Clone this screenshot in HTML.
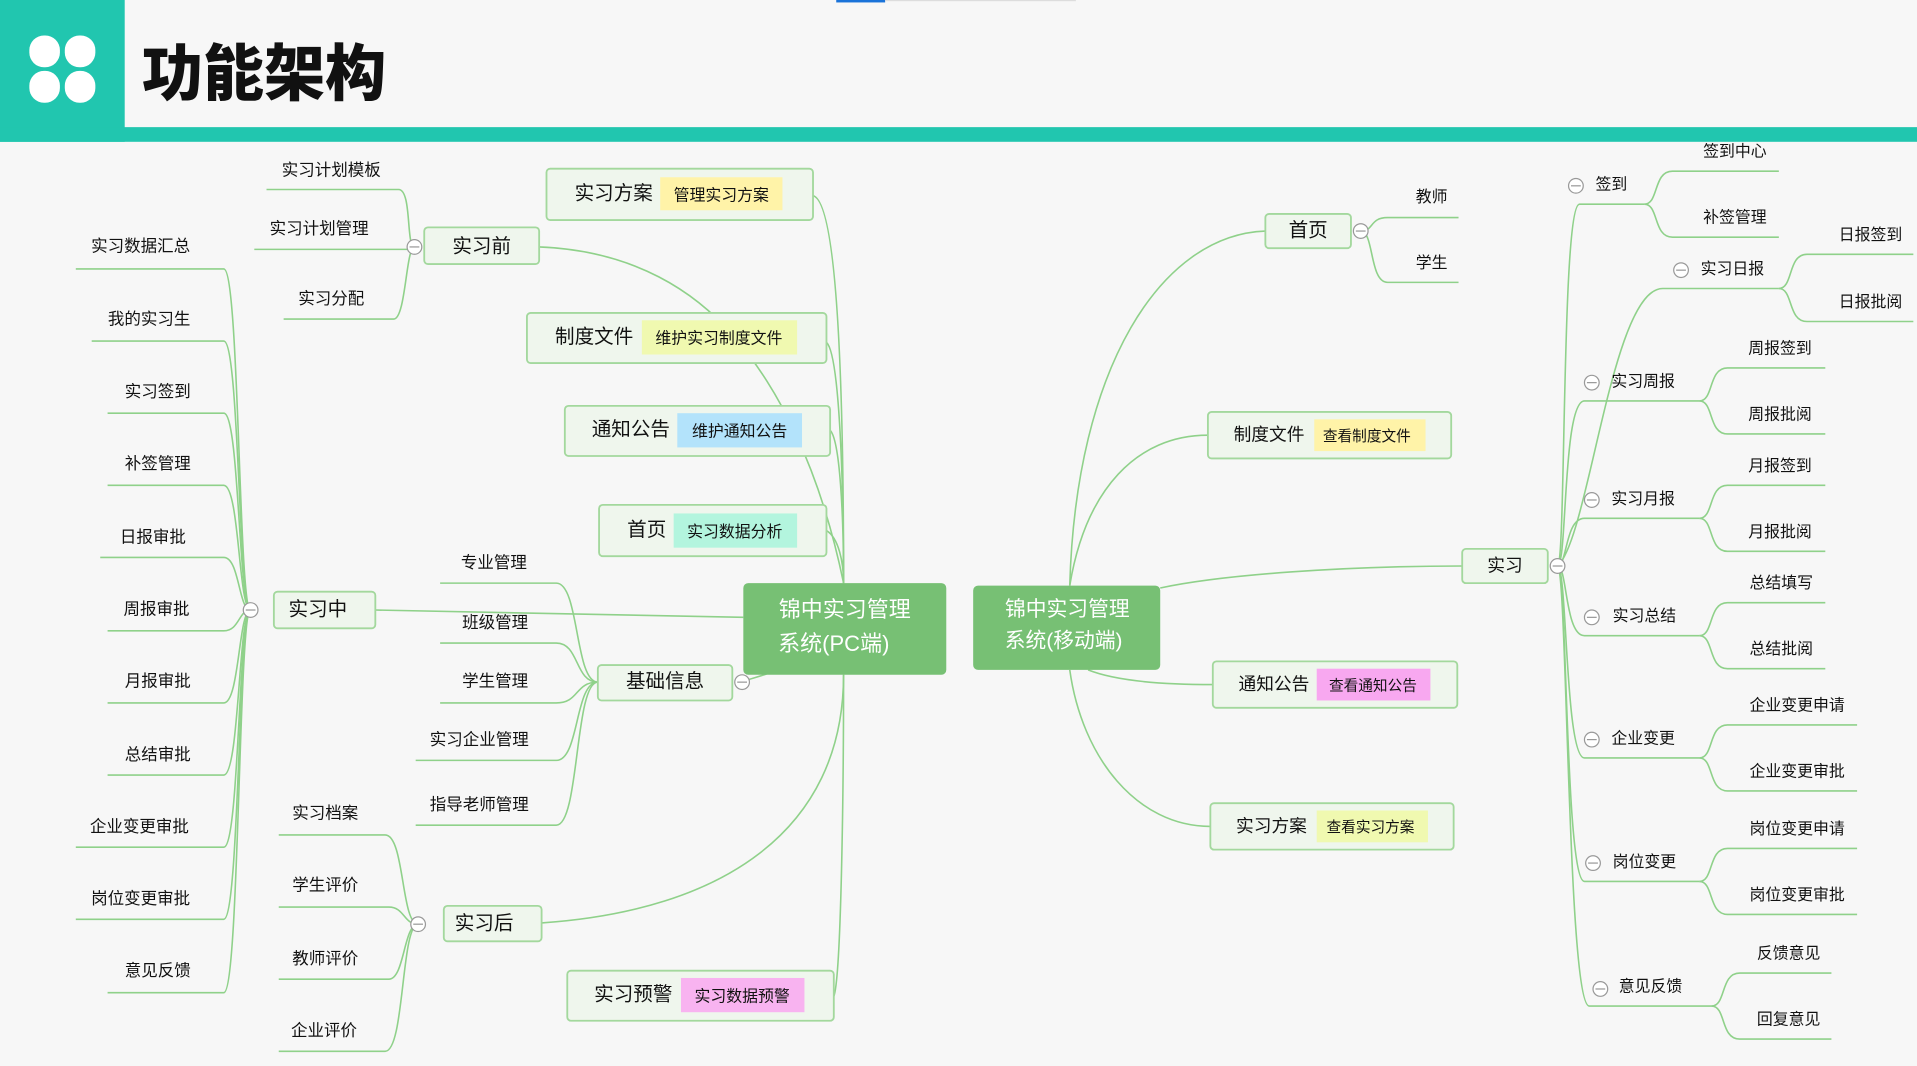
<!DOCTYPE html>
<html><head><meta charset="utf-8"><style>
html,body{margin:0;padding:0;background:#f7f7f7;}
svg{display:block;}
text{font-family:"Liberation Sans","Noto Sans CJK SC",sans-serif;fill:#111;dominant-baseline:central;transform:translateY(1.5px);}
.l{font-size:13.5px;text-anchor:middle;}
.n{font-size:16px;text-anchor:middle;}
.t{font-size:13px;text-anchor:middle;}
.c{fill:none;stroke:#8fd18a;stroke-width:1.3;}
.b{fill:#eff6ed;stroke:#a3d89d;stroke-width:1.5;}
.k circle{fill:#fff;stroke:#999;stroke-width:1;}
.k line{stroke:#999;stroke-width:1;}
</style></head><body>
<svg width="1917" height="1066" viewBox="0 0 1568 872" preserveAspectRatio="none" xmlns="http://www.w3.org/2000/svg">
<rect width="1568" height="872" fill="#f7f7f7"/>
<!-- header -->
<rect x="684" y="0" width="40" height="2" fill="#1a73d9"/>
<rect x="724" y="0" width="156" height="1" fill="#ddd"/>
<rect x="0" y="0" width="102" height="116" fill="#21c6af"/>
<rect x="0" y="104" width="1568" height="12" fill="#21c6af"/>
<rect x="24" y="29" width="25" height="26" rx="12" fill="#fff"/>
<rect x="53" y="29" width="25" height="26" rx="12" fill="#fff"/>
<rect x="24" y="58" width="25" height="26" rx="12" fill="#fff"/>
<rect x="53" y="58" width="25" height="26" rx="12" fill="#fff"/>
<text x="116" y="56" style="font-size:50px;font-weight:900;font-family:'Noto Sans CJK SC',sans-serif;transform:none;">功能架构</text>

<!-- connectors PC -->
<path class="c" d="M665,160 C684,165 690,300 690,477"/>
<path class="c" d="M676,280 C687,290 690,400 690,477"/>
<path class="c" d="M679,352 C687,360 690,420 690,477"/>
<path class="c" d="M676,434 C686,440 690,460 690,477"/>
<path class="c" d="M441,202 C520,205 570,240 600,275 C635,315 670,380 690,477"/>
<path class="c" d="M307,499 L608,505"/>
<path class="c" d="M612,556 C625,552 632,550 636,548"/>
<path class="c" d="M443,755 C590,745 690,680 690,552"/>
<path class="c" d="M682,815 C688,800 690,650 690,552"/>
<!-- 实习前 leaves -->
<path class="c" d="M218,155 H326 C337,155 332,202 339,202"/>
<path class="c" d="M208,204 H333"/>
<path class="c" d="M232,261 H322 C332,261 332,202 339,202"/>
<!-- 实习中 leaves -->
<path class="c" d="M62,220 H183 C196,220 195,499 205,499"/>
<path class="c" d="M75,279 H183 C196,279 195,499 205,499"/>
<path class="c" d="M88,338 H183 C196,338 195,499 205,499"/>
<path class="c" d="M88,397 H183 C196,397 195,499 205,499"/>
<path class="c" d="M82,456 H183 C196,456 195,499 205,499"/>
<path class="c" d="M88,516 H183 C196,516 195,499 205,499"/>
<path class="c" d="M88,575 H183 C196,575 195,499 205,499"/>
<path class="c" d="M88,634 H183 C196,634 195,499 205,499"/>
<path class="c" d="M62,693 H183 C196,693 195,499 205,499"/>
<path class="c" d="M62,752 H183 C196,752 195,499 205,499"/>
<path class="c" d="M88,812 H183 C196,812 195,499 205,499"/>
<!-- 基础信息 leaves -->
<path class="c" d="M360,477 H455 C474,477 470,558 489,558"/>
<path class="c" d="M360,526 H455 C474,526 470,558 489,558"/>
<path class="c" d="M360,575 H455 C474,575 470,558 489,558"/>
<path class="c" d="M340,622 H455 C474,622 470,558 489,558"/>
<path class="c" d="M340,675 H455 C474,675 470,558 489,558"/>
<!-- 实习后 leaves -->
<path class="c" d="M228,683 H315 C331,683 328,756 342,756"/>
<path class="c" d="M228,742 H318 C331,742 330,756 342,756"/>
<path class="c" d="M228,801 H318 C331,801 330,756 342,756"/>
<path class="c" d="M228,860 H315 C331,860 328,756 342,756"/>

<!-- mobile connectors -->
<path class="c" d="M875,479 C880,300 950,192 1035,189"/>
<path class="c" d="M875,479 C888,400 930,356 988,356"/>
<path class="c" d="M949,481 C1000,470 1100,463 1196,463"/>
<path class="c" d="M890,548 C910,556 945,560 992,560"/>
<path class="c" d="M875,548 C885,620 930,676 990,676"/>
<path class="c" d="M1113,189 C1124,189 1120,178 1135,178 H1193"/>
<path class="c" d="M1113,189 C1124,189 1120,231 1135,231 H1193"/>
<!-- 实习 children -->
<path class="c" d="M1274,463 C1281,463 1277,167 1292,167 H1345"/>
<path class="c" d="M1274,463 C1300,440 1318,236 1360,236 H1455"/>
<path class="c" d="M1274,463 C1282,463 1278,328 1296,328 H1390"/>
<path class="c" d="M1274,463 C1282,463 1280,424 1296,424 H1390"/>
<path class="c" d="M1274,463 C1282,463 1280,520 1296,520 H1390"/>
<path class="c" d="M1274,463 C1282,463 1280,620 1296,620 H1390"/>
<path class="c" d="M1274,463 C1282,463 1280,721 1296,721 H1390"/>
<path class="c" d="M1274,463 C1282,463 1282,823 1300,823 H1400"/>
<path class="c" d="M1345,167 C1357,167 1352,140 1368,140 H1455"/>
<path class="c" d="M1345,167 C1357,167 1352,194 1368,194 H1455"/>
<path class="c" d="M1455,236 C1467,236 1462,208 1478,208 H1565"/>
<path class="c" d="M1455,236 C1467,236 1462,263 1478,263 H1565"/>
<path class="c" d="M1390,328 C1402,328 1397,301 1413,301 H1493"/>
<path class="c" d="M1390,328 C1402,328 1397,355 1413,355 H1493"/>
<path class="c" d="M1390,424 C1402,424 1397,397 1413,397 H1493"/>
<path class="c" d="M1390,424 C1402,424 1397,451 1413,451 H1493"/>
<path class="c" d="M1390,520 C1402,520 1397,493 1413,493 H1493"/>
<path class="c" d="M1390,520 C1402,520 1397,547 1413,547 H1493"/>
<path class="c" d="M1390,620 C1402,620 1397,593 1413,593 H1519"/>
<path class="c" d="M1390,620 C1402,620 1397,647 1413,647 H1519"/>
<path class="c" d="M1390,721 C1402,721 1397,694 1413,694 H1519"/>
<path class="c" d="M1390,721 C1402,721 1397,748 1413,748 H1519"/>
<path class="c" d="M1400,823 C1412,823 1407,796 1423,796 H1498"/>
<path class="c" d="M1400,823 C1412,823 1407,850 1423,850 H1498"/>

<!-- PC boxes -->
<rect class="b" x="447" y="138" width="218" height="42" rx="3"/>
<rect x="540" y="145" width="100" height="27" fill="#fff3a8"/>
<text class="n" x="502" y="157">实习方案</text><text class="t" x="590" y="159">管理实习方案</text>
<rect class="b" x="431" y="256" width="245" height="41" rx="3"/>
<rect x="525" y="262" width="127" height="28" fill="#f0f9b0"/>
<text class="n" x="486" y="274">制度文件</text><text class="t" x="588" y="276">维护实习制度文件</text>
<rect class="b" x="462" y="332" width="217" height="41" rx="3"/>
<rect x="554" y="338" width="102" height="28" fill="#b3e3fb"/>
<text class="n" x="516" y="350">通知公告</text><text class="t" x="605" y="352">维护通知公告</text>
<rect class="b" x="490" y="413" width="186" height="42" rx="3"/>
<rect x="551" y="420" width="101" height="28" fill="#b3f5de"/>
<text class="n" x="529" y="432">首页</text><text class="t" x="601" y="434">实习数据分析</text>
<rect class="b" x="464" y="794" width="218" height="41" rx="3"/>
<rect x="557" y="800" width="101" height="28" fill="#f8b3f0"/>
<text class="n" x="518" y="812">实习预警</text><text class="t" x="607" y="814">实习数据预警</text>

<rect class="b" x="347" y="186" width="94" height="30" rx="3"/><text class="n" x="394" y="200">实习前</text>
<rect class="b" x="224" y="484" width="83" height="30" rx="3"/><text class="n" x="260" y="497">实习中</text>
<rect class="b" x="363" y="741" width="80" height="29" rx="3"/><text class="n" x="396" y="754">实习后</text>
<rect class="b" x="489" y="544" width="110" height="29" rx="3"/><text class="n" x="544" y="556">基础信息</text>

<!-- center nodes -->
<rect x="608" y="477" width="166" height="75" rx="4" fill="#77c074"/>
<text x="691" y="497" style="font-size:18px;fill:#fff;text-anchor:middle;">锦中实习管理</text>
<text x="682" y="525" style="font-size:18px;fill:#fff;text-anchor:middle;">系统(PC端)</text>
<rect x="796" y="479" width="153" height="69" rx="4" fill="#77c074"/>
<text x="873" y="497" style="font-size:17px;fill:#fff;text-anchor:middle;">锦中实习管理</text>
<text x="870" y="523" style="font-size:17px;fill:#fff;text-anchor:middle;">系统(移动端)</text>

<!-- mobile boxes -->
<rect class="b" x="1035" y="175" width="70" height="28" rx="3"/><text class="n" x="1070" y="187">首页</text>
<rect class="b" x="988" y="337" width="199" height="38" rx="3"/>
<rect x="1075" y="343" width="91" height="26" fill="#fff3a8"/>
<text class="t" x="1038" y="354" style="font-size:14.5px">制度文件</text><text class="t" x="1118" y="356" style="font-size:12px">查看制度文件</text>
<rect class="b" x="992" y="541" width="200" height="38" rx="3"/>
<rect x="1077" y="547" width="93" height="26" fill="#f8a8f0"/>
<text class="t" x="1042" y="558" style="font-size:14.5px">通知公告</text><text class="t" x="1123" y="560" style="font-size:12px">查看通知公告</text>
<rect class="b" x="990" y="657" width="199" height="38" rx="3"/>
<rect x="1077" y="663" width="91" height="26" fill="#f0f9b0"/>
<text class="t" x="1040" y="674" style="font-size:14.5px">实习方案</text><text class="t" x="1121" y="676" style="font-size:12px">查看实习方案</text>
<rect class="b" x="1196" y="449" width="70" height="28" rx="3"/><text class="t" x="1231" y="461" style="font-size:14.5px">实习</text>

<!-- leaf texts left -->
<text class="l" x="271" y="138">实习计划模板</text>
<text class="l" x="261" y="186">实习计划管理</text>
<text class="l" x="271" y="243">实习分配</text>
<text class="l" x="115" y="200">实习数据汇总</text>
<text class="l" x="122" y="260">我的实习生</text>
<text class="l" x="129" y="319">实习签到</text>
<text class="l" x="129" y="378">补签管理</text>
<text class="l" x="125" y="438">日报审批</text>
<text class="l" x="128" y="497">周报审批</text>
<text class="l" x="129" y="556">月报审批</text>
<text class="l" x="129" y="616">总结审批</text>
<text class="l" x="114" y="675">企业变更审批</text>
<text class="l" x="115" y="734">岗位变更审批</text>
<text class="l" x="129" y="793">意见反馈</text>
<text class="l" x="404" y="459">专业管理</text>
<text class="l" x="405" y="508">班级管理</text>
<text class="l" x="405" y="556">学生管理</text>
<text class="l" x="392" y="604">实习企业管理</text>
<text class="l" x="392" y="657">指导老师管理</text>
<text class="l" x="266" y="664">实习档案</text>
<text class="l" x="266" y="723">学生评价</text>
<text class="l" x="266" y="783">教师评价</text>
<text class="l" x="265" y="842">企业评价</text>
<!-- leaf texts right -->
<g style="font-size:13px">
<text class="t" x="1171" y="160">教师</text>
<text class="t" x="1171" y="214">学生</text>
<text class="t" x="1318" y="150">签到</text>
<text class="t" x="1419" y="123">签到中心</text>
<text class="t" x="1419" y="177">补签管理</text>
<text class="t" x="1417" y="219">实习日报</text>
<text class="t" x="1530" y="191">日报签到</text>
<text class="t" x="1530" y="246">日报批阅</text>
<text class="t" x="1344" y="311">实习周报</text>
<text class="t" x="1456" y="284">周报签到</text>
<text class="t" x="1456" y="338">周报批阅</text>
<text class="t" x="1344" y="407">实习月报</text>
<text class="t" x="1456" y="380">月报签到</text>
<text class="t" x="1456" y="434">月报批阅</text>
<text class="t" x="1345" y="503">实习总结</text>
<text class="t" x="1457" y="476">总结填写</text>
<text class="t" x="1457" y="530">总结批阅</text>
<text class="t" x="1344" y="603">企业变更</text>
<text class="t" x="1470" y="576">企业变更申请</text>
<text class="t" x="1470" y="630">企业变更审批</text>
<text class="t" x="1345" y="704">岗位变更</text>
<text class="t" x="1470" y="677">岗位变更申请</text>
<text class="t" x="1470" y="731">岗位变更审批</text>
<text class="t" x="1350" y="806">意见反馈</text>
<text class="t" x="1463" y="779">反馈意见</text>
<text class="t" x="1463" y="833">回复意见</text>
</g>

<!-- collapse circles -->
<g class="k">
<circle cx="339" cy="202" r="6"/><line x1="335" y1="202" x2="343" y2="202"/>
<circle cx="205" cy="499" r="6"/><line x1="201" y1="499" x2="209" y2="499"/>
<circle cx="342" cy="756" r="6"/><line x1="338" y1="756" x2="346" y2="756"/>
<circle cx="607" cy="558" r="6"/><line x1="603" y1="558" x2="611" y2="558"/>
<circle cx="1113" cy="189" r="6"/><line x1="1109" y1="189" x2="1117" y2="189"/>
<circle cx="1274" cy="463" r="6"/><line x1="1270" y1="463" x2="1278" y2="463"/>
<circle cx="1289" cy="152" r="6"/><line x1="1285" y1="152" x2="1293" y2="152"/>
<circle cx="1375" cy="221" r="6"/><line x1="1371" y1="221" x2="1379" y2="221"/>
<circle cx="1302" cy="313" r="6"/><line x1="1298" y1="313" x2="1306" y2="313"/>
<circle cx="1302" cy="409" r="6"/><line x1="1298" y1="409" x2="1306" y2="409"/>
<circle cx="1302" cy="505" r="6"/><line x1="1298" y1="505" x2="1306" y2="505"/>
<circle cx="1302" cy="605" r="6"/><line x1="1298" y1="605" x2="1306" y2="605"/>
<circle cx="1303" cy="706" r="6"/><line x1="1299" y1="706" x2="1307" y2="706"/>
<circle cx="1309" cy="809" r="6"/><line x1="1305" y1="809" x2="1313" y2="809"/>
</g>
</svg>
</body></html>
